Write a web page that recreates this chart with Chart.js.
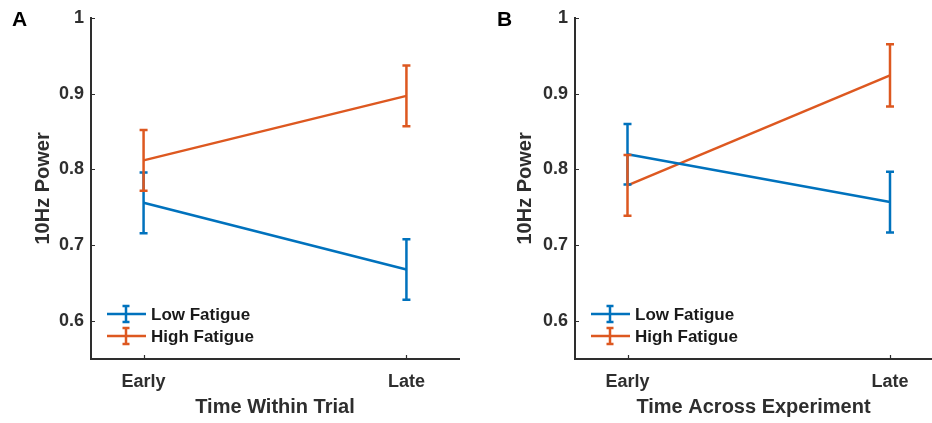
<!DOCTYPE html>
<html><head><meta charset="utf-8">
<script src="https://cdn.jsdelivr.net/npm/chart.js@4.4.0/dist/chart.umd.min.js"></script>
<style>
html,body{margin:0;padding:0;background:#fff;overflow:hidden}
#wrap{position:relative;width:932px;height:423px;overflow:hidden}
canvas{position:absolute;top:0}
</style></head><body>
<div id="wrap">
<canvas id="cA" width="470" height="423" style="left:0"></canvas>
<canvas id="cB" width="462" height="423" style="left:470px"></canvas>
</div>
<script>
const categories = ['Early', 'Late'];
const yTicks = [0.6, 0.7, 0.8, 0.9, 1];
const seriesNames = ['Low Fatigue', 'High Fatigue'];
const panelLetters = ['A', 'B'];
const xTitles = ['Time Within Trial', 'Time Across Experiment'];
const yTitle = '10Hz Power';

// Panel A
const lowA = [0.756, 0.668];
const lowAErr = [0.040, 0.040];
const highA = [0.812, 0.897];
const highAErr = [0.040, 0.040];
// Panel B
const lowB = [0.820, 0.757];
const lowBErr = [0.040, 0.040];
const highB = [0.779, 0.924];
const highBErr = [0.040, 0.041];

const BLUE = '#0072BD', ORANGE = '#DD5820', AX = '#2e2e2e';
const FONT = '"Liberation Sans", Arial, Helvetica, sans-serif';

const errorBars = {
  id: 'errorBars',
  afterDatasetsDraw(chart) {
    const {ctx, scales: {y}} = chart;
    chart.data.datasets.forEach((ds, i) => {
      const meta = chart.getDatasetMeta(i);
      ctx.save();
      ctx.strokeStyle = ds.borderColor; ctx.lineWidth = 2.5;
      meta.data.forEach((pt, j) => {
        const v = ds.data[j].y, e = ds.err[j];
        const t = y.getPixelForValue(v + e), b = y.getPixelForValue(v - e);
        const x = pt.x;
        ctx.beginPath();
        ctx.moveTo(x, t); ctx.lineTo(x, b);
        ctx.moveTo(x - 4, t); ctx.lineTo(x + 4, t);
        ctx.moveTo(x - 4, b); ctx.lineTo(x + 4, b);
        ctx.stroke();
      });
      ctx.restore();
    });
  }
};

const decorations = {
  id: 'decorations',
  afterDraw(chart, args, opts) {
    const {ctx, chartArea: a, scales: {x, y}} = chart;
    ctx.save();
    // inward ticks
    ctx.strokeStyle = AX; ctx.lineWidth = 1.2;
    ctx.beginPath();
    y.ticks.forEach(t => {
      const py = Math.round(y.getPixelForValue(t.value)) + 0.5;
      ctx.moveTo(a.left, py); ctx.lineTo(a.left + 4, py);
    });
    x.ticks.forEach(t => {
      const px = Math.round(x.getPixelForValue(t.value)) + 0.5;
      ctx.moveTo(px, a.bottom); ctx.lineTo(px, a.bottom - 4);
    });
    ctx.stroke();
    // legend
    chart.data.datasets.forEach((ds, i) => {
      const ly = 314 + i * 22;
      const lx = a.left + 16;
      ctx.strokeStyle = ds.borderColor; ctx.lineWidth = 2.5;
      ctx.beginPath();
      ctx.moveTo(lx, ly); ctx.lineTo(lx + 39, ly);
      const cx = lx + 19;
      ctx.moveTo(cx, ly - 8); ctx.lineTo(cx, ly + 8);
      ctx.moveTo(cx - 3.5, ly - 8); ctx.lineTo(cx + 3.5, ly - 8);
      ctx.moveTo(cx - 3.5, ly + 8); ctx.lineTo(cx + 3.5, ly + 8);
      ctx.stroke();
      ctx.fillStyle = '#1a1a1a';
      ctx.font = 'bold 17px ' + FONT;
      ctx.textBaseline = 'middle'; ctx.textAlign = 'left';
      ctx.fillText(ds.label, lx + 44, ly + 1);
    });
    // panel letter
    ctx.fillStyle = '#000';
    ctx.font = 'bold 21px ' + FONT;
    ctx.textBaseline = 'alphabetic'; ctx.textAlign = 'left';
    ctx.fillText(opts.letter, opts.letterX, 26);
    ctx.restore();
  }
};

function makeChart(id, letter, letterX, xTitle, low, lowErr, high, highErr, xMax, yWidth, rightPad, yTitlePad) {
  return new Chart(document.getElementById(id), {
    type: 'line',
    data: {
      datasets: [
        {label: seriesNames[0], data: categories.map((c, i) => ({x: i, y: low[i]})), err: lowErr,
         borderColor: BLUE, backgroundColor: BLUE, borderWidth: 2.5, pointRadius: 0, tension: 0},
        {label: seriesNames[1], data: categories.map((c, i) => ({x: i, y: high[i]})), err: highErr,
         borderColor: ORANGE, backgroundColor: ORANGE, borderWidth: 2.5, pointRadius: 0, tension: 0}
      ]
    },
    options: {
      responsive: false, animation: false, devicePixelRatio: 1,
      layout: {padding: {top: 15, right: rightPad, left: 0, bottom: 0}},
      plugins: {legend: {display: false}, tooltip: {enabled: false},
        decorations: {letter: letter, letterX: letterX}},
      scales: {
        x: {
          type: 'linear', min: -0.2, max: xMax,
          afterBuildTicks: s => { s.ticks = categories.map((c, i) => ({value: i})); },
          afterFit: s => { s.height = 64; },
          grid: {display: true, drawOnChartArea: false, drawTicks: false},
          border: {display: true, color: AX, width: 2},
          ticks: {callback: v => categories[v], color: AX, padding: 12,
            font: {family: FONT, size: 18, weight: 'bold'}, maxRotation: 0, autoSkip: false},
          title: {display: true, text: xTitle, color: AX, padding: {top: 0, bottom: 4},
            font: {family: FONT, size: 20, weight: 'bold'}}
        },
        y: {
          type: 'linear', min: 0.55, max: 1,
          afterBuildTicks: s => { s.ticks = yTicks.map(v => ({value: v})); },
          afterFit: s => { s.width = yWidth; },
          grid: {display: true, drawOnChartArea: false, drawTicks: false},
          border: {display: true, color: AX, width: 2},
          ticks: {callback: v => String(v), color: AX, padding: 7,
            font: {family: FONT, size: 18, weight: 'bold'}},
          title: {display: true, text: yTitle, color: AX, padding: {top: yTitlePad, bottom: 0},
            font: {family: FONT, size: 20, weight: 'bold'}}
        }
      }
    },
    plugins: [errorBars, decorations]
  });
}

makeChart('cA', panelLetters[0], 12, xTitles[0], lowA, lowAErr, highA, highAErr, 1.2, 91, 11, 31);
makeChart('cB', panelLetters[1], 27, xTitles[1], lowB, lowBErr, highB, highBErr, 1.16, 105, 0, 43);
</script>
</body></html>
